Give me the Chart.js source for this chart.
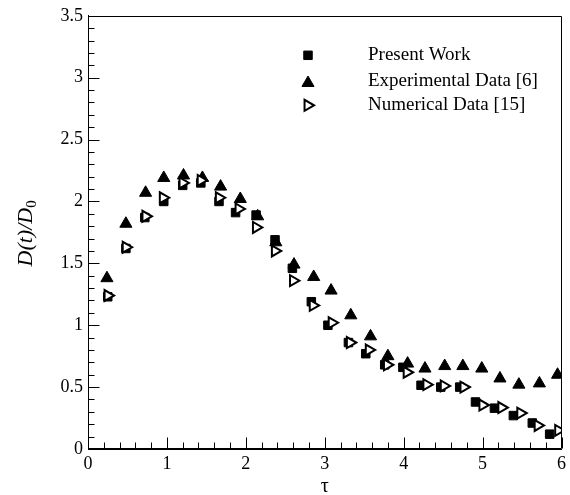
<!DOCTYPE html>
<html><head><meta charset="utf-8">
<script src="https://cdn.jsdelivr.net/npm/chart.js@4"></script>
<style>html,body{margin:0;padding:0;background:#fff}</style>
</head><body>
<canvas id="c" width="570" height="495"></canvas>
<script>
// ---- data ----
const seriesNames = ['Present Work', 'Experimental Data [6]', 'Numerical Data [15]'];
const presentX = [0.25,0.48,0.72,0.96,1.20,1.43,1.66,1.87,2.13,2.37,2.59,2.83,3.04,3.30,3.52,3.76,3.99,4.22,4.47,4.71,4.91,5.15,5.39,5.63,5.85];
const presentY = [1.23,1.62,1.87,2.00,2.13,2.15,2.00,1.91,1.89,1.69,1.46,1.19,1.00,0.86,0.77,0.68,0.66,0.515,0.50,0.50,0.38,0.33,0.27,0.21,0.12];
const experimentalX = [0.24,0.48,0.73,0.96,1.21,1.45,1.68,1.93,2.15,2.38,2.61,2.86,3.08,3.33,3.58,3.80,4.05,4.27,4.52,4.75,4.99,5.22,5.46,5.72,5.95];
const experimentalY = [1.38,1.82,2.07,2.19,2.21,2.19,2.12,2.02,1.88,1.67,1.49,1.39,1.28,1.08,0.91,0.75,0.69,0.65,0.67,0.67,0.65,0.57,0.52,0.53,0.60];
const numericalX = [0.25,0.48,0.73,0.95,1.20,1.43,1.66,1.91,2.13,2.37,2.60,2.85,3.09,3.32,3.56,3.79,4.04,4.29,4.51,4.76,5.00,5.24,5.48,5.70,5.96];
const numericalY = [1.24,1.63,1.88,2.03,2.15,2.17,2.03,1.94,1.79,1.60,1.36,1.16,1.02,0.86,0.80,0.68,0.62,0.52,0.51,0.50,0.355,0.335,0.29,0.19,0.15];
const xTicks = [0,1,2,3,4,5,6];
const xTickLabels = ['0','1','2','3','4','5','6'];
const yTicks = [0,0.5,1,1.5,2,2.5,3,3.5];
const yTickLabels = ['0','0.5','1','1.5','2','2.5','3','3.5'];
const xTitle = 'τ';
const yTitleMain = 'D(t)/D';
const yTitleSub = '0';

const FONT = "'Liberation Serif', 'Times New Roman', serif";
const toPts = (xs, ys) => xs.map((x, i) => ({x: x, y: ys[i]}));

const styles = [
  {pointStyle: 'rect', radius: 6, rotation: 0, backgroundColor: '#000', borderColor: '#000', borderWidth: 1},
  {pointStyle: 'triangle', radius: 7, rotation: 0, backgroundColor: '#000', borderColor: '#000', borderWidth: 1},
  {pointStyle: 'triangle', radius: 6.3, rotation: 90, backgroundColor: '#fff', borderColor: '#000', borderWidth: 2}
];

const frameTicks = {
  id: 'frameTicks',
  afterDatasetsDraw(chart) {
    const {ctx, chartArea: a, scales: {x, y}} = chart;
    ctx.save();
    ctx.strokeStyle = '#000';
    ctx.lineWidth = 1;
    const L = Math.round(a.left) + 0.5, R = Math.round(a.right) - 0.5;
    const T = Math.round(a.top) + 0.5, B = Math.round(a.bottom) - 0.5;
    ctx.beginPath();
    ctx.moveTo(L, B); ctx.lineTo(L, T); ctx.lineTo(R, T); ctx.lineTo(R, B); ctx.lineTo(L, B);
    ctx.stroke();
    ctx.beginPath();
    for (let k = 0; k <= 35; k++) {
      const py = Math.round(y.getPixelForValue(k / 10)) + 0.5;
      const len = (k % 5 === 0) ? 11 : 6;
      ctx.moveTo(L, py); ctx.lineTo(L + len, py);
    }
    for (let k = 0; k <= 30; k++) {
      const px = Math.round(x.getPixelForValue(k / 5)) + 0.5;
      const len = (k % 5 === 0) ? 11 : 6;
      ctx.moveTo(px, B); ctx.lineTo(px, B - len);
    }
    ctx.stroke();
    ctx.restore();
  }
};

const customText = {
  id: 'customText',
  afterDraw(chart) {
    const {ctx, chartArea: a} = chart;
    ctx.save();
    // legend
    const tx = 368;
    const rows = [
      {px: 308, py: 55.3, ty: 55},
      {px: 308, py: 83.0, ty: 81.5},
      {px: 307.7, py: 105.3, ty: 105.5}
    ];
    rows.forEach((r, i) => {
      const s = styles[i];
      ctx.fillStyle = s.backgroundColor;
      ctx.strokeStyle = s.borderColor;
      ctx.lineWidth = s.borderWidth;
      Chart.helpers.drawPoint(ctx, {pointStyle: s.pointStyle, radius: s.radius, rotation: s.rotation, borderWidth: s.borderWidth}, r.px, r.py);
      ctx.fillStyle = '#000';
      ctx.font = '19px ' + FONT;
      ctx.textAlign = 'left';
      ctx.textBaseline = 'middle';
      ctx.fillText(seriesNames[i], tx, r.ty);
    });
    // y title with subscript
    const cy = (a.top + a.bottom) / 2 + 1;
    ctx.translate(25, cy);
    ctx.rotate(-Math.PI / 2);
    ctx.font = 'italic 22px ' + FONT;
    const w1 = ctx.measureText(yTitleMain).width;
    ctx.font = '15px ' + FONT;
    const w2 = ctx.measureText(yTitleSub).width;
    const start = -(w1 + w2) / 2;
    ctx.fillStyle = '#000';
    ctx.textAlign = 'left';
    ctx.textBaseline = 'alphabetic';
    ctx.font = 'italic 22px ' + FONT;
    ctx.fillText(yTitleMain, start, 7);
    ctx.font = '15px ' + FONT;
    ctx.fillText(yTitleSub, start + w1, 11);
    ctx.restore();
  }
};

new Chart(document.getElementById('c'), {
  type: 'scatter',
  data: {
    datasets: [
      Object.assign({label: seriesNames[0], data: toPts(presentX, presentY), order: 3}, styles[0], {pointRotation: 0}),
      Object.assign({label: seriesNames[1], data: toPts(experimentalX, experimentalY), order: 2}, styles[1], {pointRotation: 0}),
      Object.assign({label: seriesNames[2], data: toPts(numericalX, numericalY), order: 1}, styles[2], {pointRotation: 90})
    ]
  },
  options: {
    responsive: false,
    animation: false,
    devicePixelRatio: 1,
    events: [],
    layout: {padding: {left: 0, right: 4, top: 14, bottom: 0}},
    plugins: {legend: {display: false}, tooltip: {enabled: false}},
    scales: {
      x: {
        type: 'linear', min: 0, max: 6,
        afterBuildTicks: s => { s.ticks = xTicks.map(v => ({value: v})); },
        afterFit: s => { s.height = 46; },
        grid: {display: true, drawOnChartArea: false, drawTicks: false},
        border: {display: true, color: '#000', width: 1},
        ticks: {
          color: '#000', font: {family: FONT, size: 18}, padding: 4, maxRotation: 0,
          callback: v => xTickLabels[xTicks.indexOf(v)]
        },
        title: {display: true, text: xTitle, color: '#000', font: {family: FONT, size: 20, lineHeight: 0.8}, padding: {top: 0, bottom: 0}}
      },
      y: {
        type: 'linear', min: 0, max: 3.5,
        afterBuildTicks: s => { s.ticks = yTicks.map(v => ({value: v})); },
        afterFit: s => { s.width = 88; },
        grid: {display: true, drawOnChartArea: false, drawTicks: false},
        border: {display: true, color: '#000', width: 1},
        ticks: {
          color: '#000', font: {family: FONT, size: 18}, padding: 5,
          callback: v => yTickLabels[yTicks.indexOf(v)]
        }
      }
    }
  },
  plugins: [frameTicks, customText]
});
</script>
</body></html>
